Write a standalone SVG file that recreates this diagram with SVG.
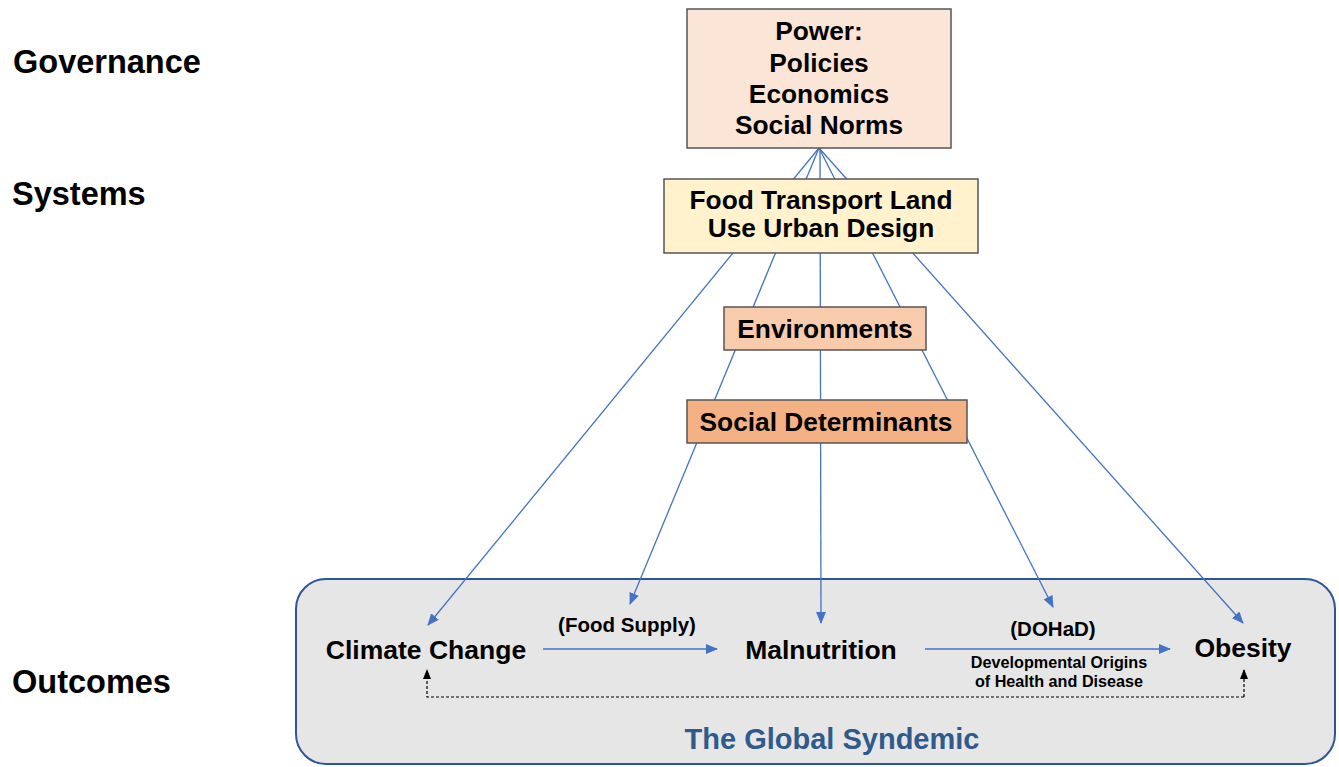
<svg xmlns="http://www.w3.org/2000/svg" width="1339" height="767" viewBox="0 0 1339 767">
<defs>
<marker id="ab" markerUnits="userSpaceOnUse" markerWidth="12" markerHeight="10" viewBox="0 0 12 10" refX="11" refY="5" orient="auto">
<path d="M0,0 L12,5 L0,10 Z" fill="#4472c4"/>
</marker>
<marker id="ak" markerUnits="userSpaceOnUse" markerWidth="10" markerHeight="8" viewBox="0 0 10 8" refX="9" refY="4" orient="auto">
<path d="M0,0 L10,4 L0,8 Z" fill="#000"/>
</marker>
</defs>
<style>
text{font-family:"Liberation Sans",Arial,sans-serif;font-weight:bold;fill:#000}
.lbl{font-size:32.5px}
.box{stroke:#555;stroke-width:1.5}
.nt{font-size:26.3px;text-anchor:middle}
.out{font-size:26.5px;text-anchor:middle}
.sm{font-size:20.5px;text-anchor:middle}
.xs{font-size:16.2px;text-anchor:middle}
.con{stroke:#4472c4;stroke-width:1.3;fill:none;marker-end:url(#ab)}
.dash{stroke:#000;stroke-width:1.2;fill:none;stroke-dasharray:3,2}
</style>
<rect width="1339" height="767" fill="#fff"/>
<g id="levels">
<text class="lbl" x="13" y="73">Governance</text>
<text class="lbl" x="12" y="205">Systems</text>
<text class="lbl" x="12" y="693">Outcomes</text>
</g>
<g id="syndemic">
<rect x="296" y="579" width="1039" height="185" rx="30" ry="30" fill="#e7e6e6" stroke="#2f5597" stroke-width="2"/>
<text x="832" y="749" style="font-size:29px;text-anchor:middle;fill:#2e5b8c">The Global Syndemic</text>
</g>
<g id="connectors">
<line class="con" x1="819" y1="148" x2="428" y2="625"/>
<line class="con" x1="819" y1="148" x2="630" y2="604"/>
<line class="con" x1="820" y1="148" x2="821" y2="623"/>
<line class="con" x1="819" y1="148" x2="1053" y2="607"/>
<line class="con" x1="819" y1="148" x2="1243" y2="623"/>
<line class="con" x1="543" y1="649" x2="717" y2="649"/>
<line class="con" x1="925" y1="649" x2="1170" y2="649"/>
<path class="dash" d="M1244,697 L1244,670" marker-end="url(#ak)"/>
<path class="dash" d="M1244,697 L427,697 L427,670" marker-end="url(#ak)"/>
</g>
<g id="power">
<rect class="box" x="687" y="9" width="264" height="139" fill="#fbe5d6"/>
<text class="nt" x="819" y="40">Power:</text>
<text class="nt" x="819" y="72">Policies</text>
<text class="nt" x="819" y="103">Economics</text>
<text class="nt" x="819" y="134">Social Norms</text>
</g>
<g id="systems">
<rect class="box" x="664" y="179" width="314" height="74" fill="#fff2cc"/>
<text class="nt" x="821" y="209">Food Transport Land</text>
<text class="nt" x="821" y="237">Use Urban Design</text>
</g>
<g id="environments">
<rect class="box" x="724" y="307" width="202" height="43" fill="#f8cbad"/>
<text class="nt" x="825" y="338">Environments</text>
</g>
<g id="social-determinants">
<rect class="box" x="687" y="400" width="280" height="43" fill="#f4b183"/>
<text class="nt" x="826" y="431">Social Determinants</text>
</g>
<g id="climate-change">
<text class="out" x="426" y="659">Climate Change</text>
</g>
<g id="malnutrition">
<text class="out" x="821" y="659">Malnutrition</text>
</g>
<g id="obesity">
<text class="out" x="1243" y="657">Obesity</text>
</g>
<g id="edge-labels">
<text class="sm" x="627" y="632">(Food Supply)</text>
<text class="sm" x="1053" y="636">(DOHaD)</text>
<text class="xs" x="1059" y="668">Developmental Origins</text>
<text class="xs" x="1059" y="687">of Health and Disease</text>
</g>
</svg>
